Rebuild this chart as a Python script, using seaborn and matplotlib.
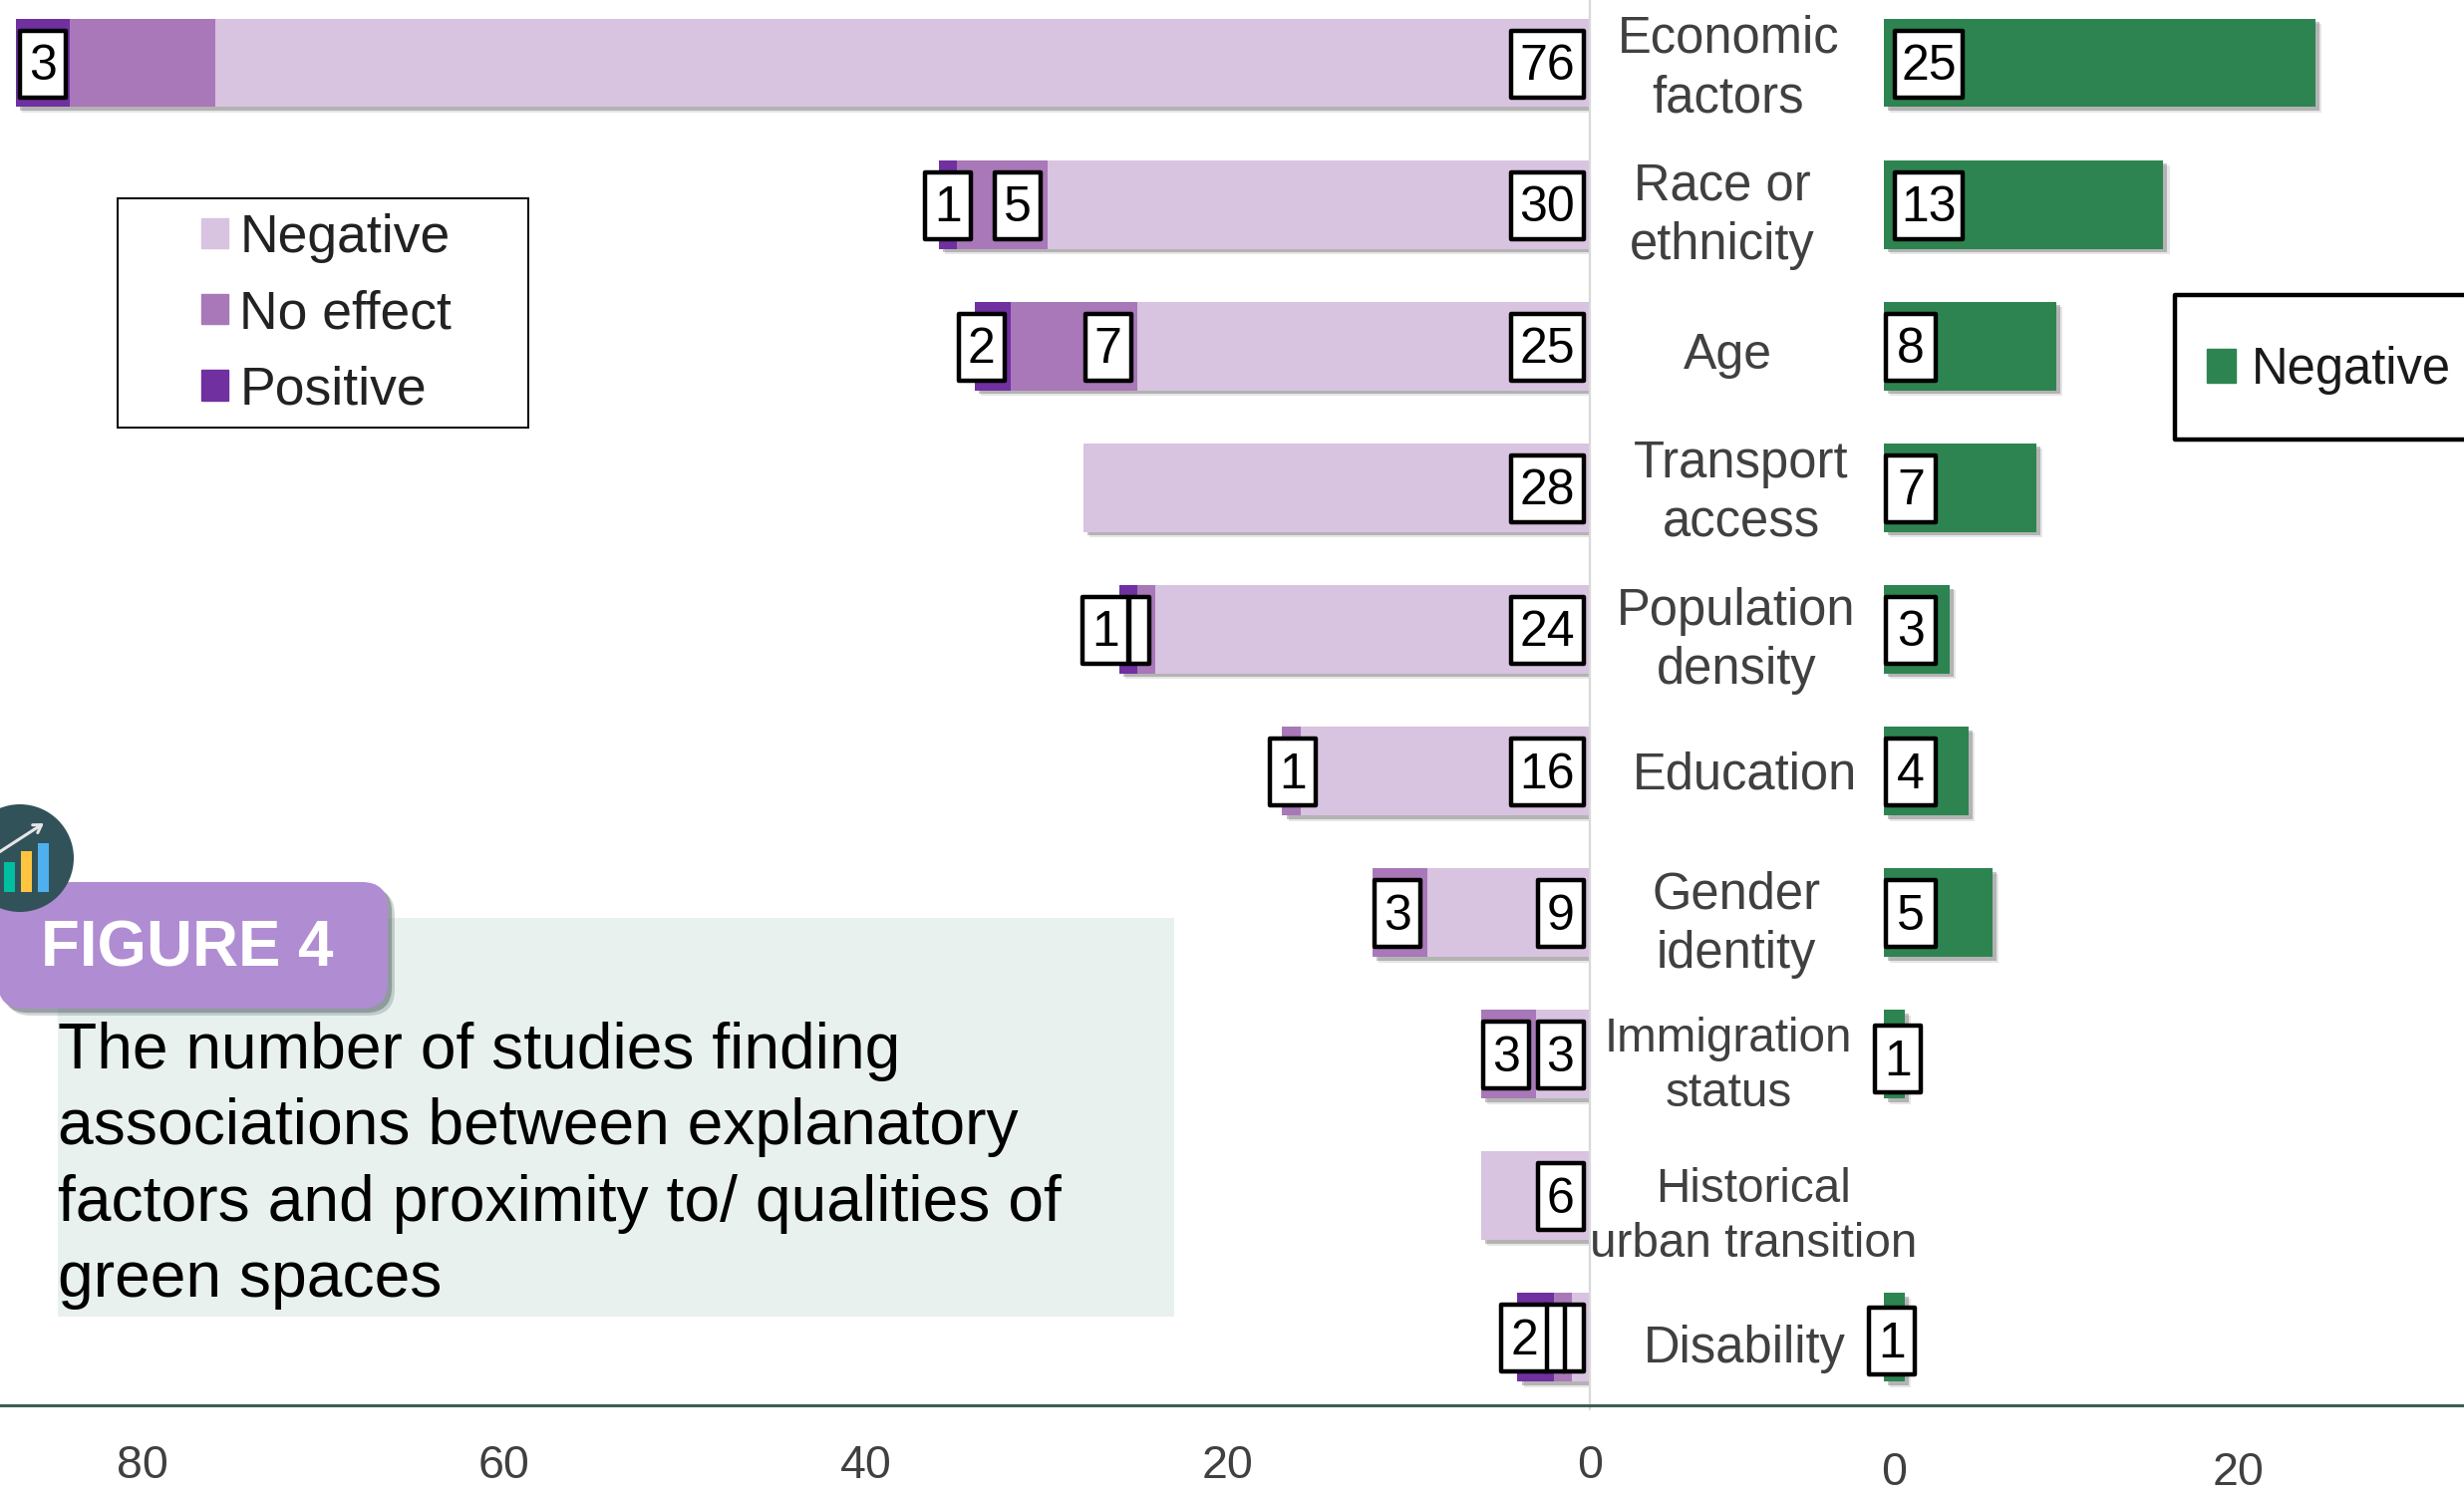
import matplotlib
matplotlib.use("Agg")
import matplotlib.pyplot as plt
import matplotlib.patheffects as pe
from matplotlib.patches import Rectangle, FancyBboxPatch, Circle, Patch
from matplotlib.transforms import ScaledTranslation
import numpy as np
import seaborn as sns

sns.set_theme(style="white")
plt.rcParams["font.family"] = ["Liberation Sans", "DejaVu Sans"]

# ---------- data ----------
categories = ["Economic\nfactors", "Race or\nethnicity", "Age", "Transport\naccess",
              "Population\ndensity", "Education", "Gender\nidentity",
              "Immigration\nstatus", "Historical\nurban transition", "Disability"]
negative = [76, 30, 25, 28, 24, 16, 9, 3, 6, 1]
no_effect = [8, 5, 7, 0, 1, 1, 3, 3, 0, 1]
positive = [3, 1, 2, 0, 1, 0, 0, 0, 0, 2]
# printed labels; "" = empty label box, None = no box
negative_labels = ["76", "30", "25", "28", "24", "16", "9", "3", "6", ""]
no_effect_labels = [None, "5", "7", None, "", "1", "3", "3", None, ""]
positive_labels = ["3", "1", "2", None, "1", None, None, None, None, "2"]
green_len = [25, 16.2, 10, 8.85, 3.8, 4.9, 6.3, 1.2, 0, 1.2]
green_labels = ["25", "13", "8", "7", "3", "4", "5", "1", None, "1"]
left_ticks = [80, 60, 40, 20, 0]
right_ticks = [0, 20]
title_text = ("The number of studies finding\nassociations between explanatory\n"
              "factors and proximity to/ qualities of\ngreen spaces")

C_NEG, C_NO, C_POS, C_GREEN = "#D8C3E0", "#A878B8", "#7030A0", "#2E8451"
C_TXT = "#404040"

W, H = 2472, 1501
fig = plt.figure(figsize=(W / 100, H / 100), dpi=100, facecolor="white")


def axes_px(x0, y0, x1, y1, **kw):
    return fig.add_axes([x0 / W, 1 - y1 / H, (x1 - x0) / W, (y1 - y0) / H], **kw)


AX_BOTTOM = 1410
axL = axes_px(0, 0, 1595, AX_BOTTOM)
axR = axes_px(1890, 0, W, AX_BOTTOM)
axL.patch.set_visible(False)
axR.patch.set_visible(False)

neg = np.array(negative, float)
no = np.array(no_effect, float)
pos = np.array(positive, float)
shadow = [pe.SimplePatchShadow(offset=(4.5, -4), shadow_rgbFace="#777777", alpha=0.18),
          pe.SimplePatchShadow(offset=(3, -2.6), shadow_rgbFace="#555555", alpha=0.35), pe.Normal()]

BW = 0.626
for vals, col, shad in [(neg + no + pos, C_POS, True), (neg + no, C_NO, False), (neg, C_NEG, False)]:
    n0 = len(axL.patches)
    sns.barplot(x=vals, y=categories, order=categories, color=col, saturation=1,
                width=BW, orient="h", ax=axL, linewidth=0)
    if shad:
        for p in axL.patches[n0:]:
            p.set_path_effects(shadow)
sns.barplot(x=green_len, y=categories, order=categories, color=C_GREEN, saturation=1,
            width=BW, orient="h", ax=axR, linewidth=0)
for p in axR.patches:
    p.set_path_effects(shadow)

SP = 142.1
TOP = 63
for ax in (axL, axR):
    ax.set_ylim((AX_BOTTOM - TOP) / SP, -TOP / SP)
    ax.set_ylabel("")
    ax.set_xlabel("")
    ax.set_yticks([])
    sns.despine(ax=ax, left=True, top=True, right=True, bottom=True)
axL.set_xlim(1595 / 18.15, 0)
axR.set_xlim(0, (W - 1890) / 17.3)

axL.set_xticks(left_ticks)
axL.set_xticklabels([str(t) for t in left_ticks])
axL.tick_params(axis="x", length=0, pad=28, labelsize=33.5, labelcolor=C_TXT)
axR.set_xticks(right_ticks)
axR.set_xticklabels([str(t) for t in right_ticks])
axR.tick_params(axis="x", length=0, pad=33, labelsize=33.5, labelcolor=C_TXT)
for lab in axR.get_xticklabels():
    lab.set_transform(lab.get_transform() + ScaledTranslation(10 / 100, 0, fig.dpi_scale_trans))

# ---------- pixel overlay ----------
ov = fig.add_axes([0, 0, 1, 1], zorder=10)
ov.set_xlim(0, W)
ov.set_ylim(H, 0)
ov.axis("off")


def data_px(ax, x, y):
    px, py = ax.transData.transform((x, y))
    return px, H - py


ov.plot([1595, 1595], [0, 1414], color="#D9D9D9", lw=1.6, zorder=1)
ov.plot([0, W], [AX_BOTTOM, AX_BOTTOM], color="#3A5F55", lw=2.2, zorder=2)


def label_box(xl, yc, txt, w):
    ov.add_patch(Rectangle((xl, yc - 32.5), w, 67, fc="white", ec="black", lw=3.2,
                           joinstyle="round", zorder=5))
    if txt:
        ov.text(xl + w / 2, yc + 4, txt, ha="center", va="center", fontsize=36, color="black", zorder=6)


NUDGE = {("no", 5): 22, ("pos", 1): 21, ("pos", 4): -3, ("pos", 0): 2}
zero = np.zeros_like(neg)
for name, labs, inner in [("neg", negative_labels, zero), ("no", no_effect_labels, neg),
                          ("pos", positive_labels, neg + no)]:
    for i, t in enumerate(labs):
        if t is None:
            continue
        w = 73 if len(t) == 2 else (46 if len(t) == 1 else 20)
        x_end, yc = data_px(axL, inner[i], i)
        right = x_end - 6.5 + NUDGE.get((name, i), 0)
        label_box(right - w, yc, t, w)

R_LEFT = {0: 1901, 1: 1901, 7: 1881, 9: 1875}
R_DY = {7: 4, 9: 3}
R_W = {7: 46, 9: 46}
for i, t in enumerate(green_labels):
    if t is None:
        continue
    _, yc = data_px(axR, 0, i)
    w = 68 if len(t) == 2 else R_W.get(i, 50)
    label_box(R_LEFT.get(i, 1892), yc + R_DY.get(i, 0), t, w)

# category names
cat_x = [1734, 1728, 1733, 1747, 1742, 1750, 1742, 1734, 1759, 1750]
cat_y = [69, 217, 357, 495, 643, 778, 928, 1070, 1221, 1354]
cat_fs = [36.5, 36.5, 36, 36.5, 36.5, 36.5, 36.5, 34.3, 34.3, 36.5]
for c, x, y, fs in zip(categories, cat_x, cat_y, cat_fs):
    ov.text(x, y, c, ha="center", va="center", fontsize=fs, color=C_TXT, linespacing=1.28, zorder=4)

# left legend
ov.add_patch(Rectangle((118, 199), 412, 230, fc="white", ec="black", lw=1.4, zorder=3))
leg = ov.legend(handles=[Patch(color=C_NEG, label="Negative"), Patch(color=C_NO, label="No effect"),
                         Patch(color=C_POS, label="Positive")],
                loc="upper left", bbox_to_anchor=(202, 214), bbox_transform=ov.transData,
                frameon=False, fontsize=38.5, borderpad=0, borderaxespad=0,
                handlelength=0.5, handleheight=0.5, handletextpad=0.22, labelspacing=0.49,
                labelcolor="#222222")
leg.set_zorder(4)
ov.add_artist(leg)

# right legend
ov.add_patch(Rectangle((2182, 296), 340, 145, fc="white", ec="black", lw=3.2, joinstyle="round", zorder=3))
leg2 = ov.legend(handles=[Patch(color=C_GREEN, label="Negative")],
                 loc="upper left", bbox_to_anchor=(2214, 347), bbox_transform=ov.transData,
                 frameon=False, fontsize=36.5, borderpad=0, borderaxespad=0,
                 handlelength=0.57, handleheight=0.66, handletextpad=0.31, labelcolor="#1a1a1a")
leg2.set_zorder(4)

# figure caption
ov.add_patch(Rectangle((58, 921), 1120, 400, fc="#E8F1EE", ec="none", zorder=1))
ov.text(58, 1025, title_text, ha="left", va="top", fontsize=46.2, color="black", linespacing=1.35, zorder=4)

badge = FancyBboxPatch((-2, 885), 391, 127, boxstyle="round,pad=0,rounding_size=26",
                       fc="#B08CD2", ec="none", zorder=6)
badge.set_path_effects([pe.SimplePatchShadow(offset=(5, -5), shadow_rgbFace="#667777", alpha=0.3),
                        pe.SimplePatchShadow(offset=(3, -3), shadow_rgbFace="#445555", alpha=0.4), pe.Normal()])
ov.add_patch(badge)
ov.text(41, 953, "FIGURE 4", ha="left", va="center", fontsize=45.8, fontweight="bold", color="white", zorder=7)

# icon
ov.add_patch(Circle((20, 861), 54, fc="#32525A", ec="none", zorder=8))
for (x0, x1, y0), col in [((4, 15, 865), "#00BFA0"), ((21, 32, 854), "#FFC440"), ((38, 49, 846), "#4FB0F0")]:
    ov.add_patch(Rectangle((x0, y0), x1 - x0, 895 - y0, fc=col, ec="none", zorder=9))
ov.annotate("", xy=(44, 826), xytext=(-4, 857), zorder=9,
            arrowprops=dict(arrowstyle="->,head_length=0.45,head_width=0.28", color="#E6E6E6", lw=2.2,
                            shrinkA=0, shrinkB=0))

fig.savefig("out.png", dpi=100)
